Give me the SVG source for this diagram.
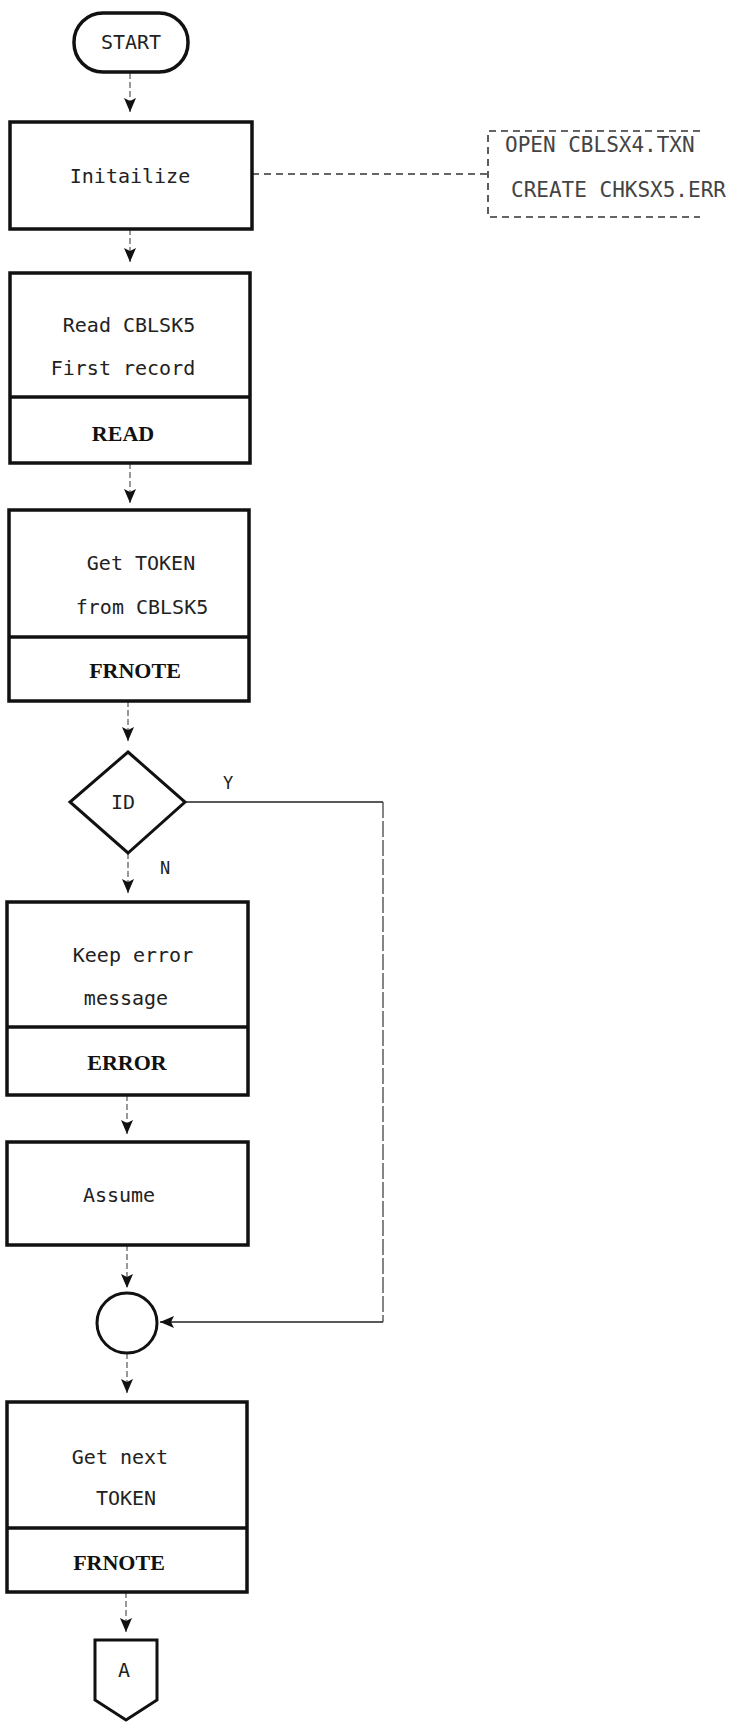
<svg xmlns="http://www.w3.org/2000/svg" width="729" height="1722" viewBox="0 0 729 1722">
<style>
.box{fill:#fff;stroke:#111;stroke-width:3.5}
.div{stroke:#111;stroke-width:3.5}
.t{font-family:"DejaVu Sans Mono","Liberation Mono",monospace;font-size:20px;fill:#222;text-anchor:middle}
.b{font-family:"Liberation Serif","DejaVu Serif",serif;font-weight:bold;font-size:22px;fill:#111;text-anchor:middle}
.note{font-family:"DejaVu Sans Mono","Liberation Mono",monospace;font-size:21px;fill:#444}
.lbl{font-family:"DejaVu Sans Mono","Liberation Mono",monospace;font-size:17px;fill:#222;text-anchor:middle}
.c{fill:none;stroke:#555;stroke-width:1.2;stroke-dasharray:6 3}
.dash{fill:none;stroke:#333;stroke-width:1.6;stroke-dasharray:7 5}
</style>
<defs>
<marker id="ah" markerUnits="userSpaceOnUse" markerWidth="16" markerHeight="14" refX="14" refY="6" orient="auto">
<path d="M0,0 L14,6 L0,12 L3,6 Z" fill="#111"/>
</marker>
</defs>

<g id="connectors">
<line class="c" x1="130" y1="73" x2="130" y2="112" marker-end="url(#ah)"/>
<line class="c" x1="130" y1="229" x2="130" y2="262" marker-end="url(#ah)"/>
<line class="c" x1="130" y1="463" x2="130" y2="503" marker-end="url(#ah)"/>
<line class="c" x1="128" y1="701" x2="128" y2="741" marker-end="url(#ah)"/>
<line class="c" x1="128" y1="853" x2="128" y2="893" marker-end="url(#ah)"/>
<line class="c" x1="127" y1="1095" x2="127" y2="1134" marker-end="url(#ah)"/>
<line class="c" x1="127" y1="1245" x2="127" y2="1288" marker-end="url(#ah)"/>
<line class="c" x1="127" y1="1353" x2="127" y2="1393" marker-end="url(#ah)"/>
<line class="c" x1="126" y1="1592" x2="126" y2="1632" marker-end="url(#ah)"/>
<path d="M185,802 H383" fill="none" stroke="#222" stroke-width="1.6"/>
<path d="M383,802 V1322" fill="none" stroke="#444" stroke-width="1.3" stroke-dasharray="16 3"/>
<path d="M383,1322 H160" fill="none" stroke="#222" stroke-width="1.5" marker-end="url(#ah)"/>
<line class="dash" x1="252" y1="174" x2="488" y2="174"/>
<text class="lbl" x="228" y="789">Y</text>
<text class="lbl" x="165" y="874">N</text>
</g>

<g id="start">
<rect class="box" x="74" y="13" width="114" height="59" rx="29" stroke-width="2.8"/>
<text class="t" x="131" y="49" font-size="19">START</text>
</g>

<g id="initialize">
<rect class="box" x="10" y="122" width="242" height="107"/>
<text class="t" x="130" y="183">Initailize</text>
</g>

<g id="note">
<path class="dash" d="M700,131 H488 V217 H700"/>
<text class="note" x="505" y="152">OPEN CBLSX4.TXN</text>
<text class="note" x="511" y="197">CREATE CHKSX5.ERR</text>
</g>

<g id="read">
<rect class="box" x="10" y="273" width="240" height="190"/>
<line class="div" x1="10" y1="397" x2="250" y2="397"/>
<text class="t" x="129" y="332">Read CBLSK5</text>
<text class="t" x="123" y="375">First record</text>
<text class="b" x="123" y="441">READ</text>
</g>

<g id="gettoken">
<rect class="box" x="9" y="510" width="240" height="191"/>
<line class="div" x1="9" y1="637" x2="249" y2="637"/>
<text class="t" x="141" y="570">Get TOKEN</text>
<text class="t" x="142" y="614">from CBLSK5</text>
<text class="b" x="135" y="678">FRNOTE</text>
</g>

<g id="id-decision">
<polygon points="128,752 185,802 128,853 70,802" fill="#fff" stroke="#111" stroke-width="3"/>
<text class="t" x="123" y="809" font-size="19">ID</text>
</g>

<g id="keeperror">
<rect class="box" x="7" y="902" width="241" height="193"/>
<line class="div" x1="7" y1="1027" x2="248" y2="1027"/>
<text class="t" x="133" y="962">Keep error</text>
<text class="t" x="126" y="1005">message</text>
<text class="b" x="127" y="1070">ERROR</text>
</g>

<g id="assume">
<rect class="box" x="7" y="1142" width="241" height="103"/>
<text class="t" x="119" y="1202">Assume</text>
</g>

<g id="junction">
<circle cx="127" cy="1323" r="30" fill="#fff" stroke="#111" stroke-width="3"/>
</g>

<g id="getnext">
<rect class="box" x="7" y="1402" width="240" height="190"/>
<line class="div" x1="7" y1="1528" x2="247" y2="1528"/>
<text class="t" x="120" y="1464">Get next</text>
<text class="t" x="126" y="1505">TOKEN</text>
<text class="b" x="119" y="1570">FRNOTE</text>
</g>

<g id="offpage-a">
<path d="M95,1640 L157,1640 L157,1700 L126,1720 L95,1700 Z" fill="#fff" stroke="#111" stroke-width="3"/>
<text class="t" x="124" y="1677" font-size="18">A</text>
</g>
</svg>
